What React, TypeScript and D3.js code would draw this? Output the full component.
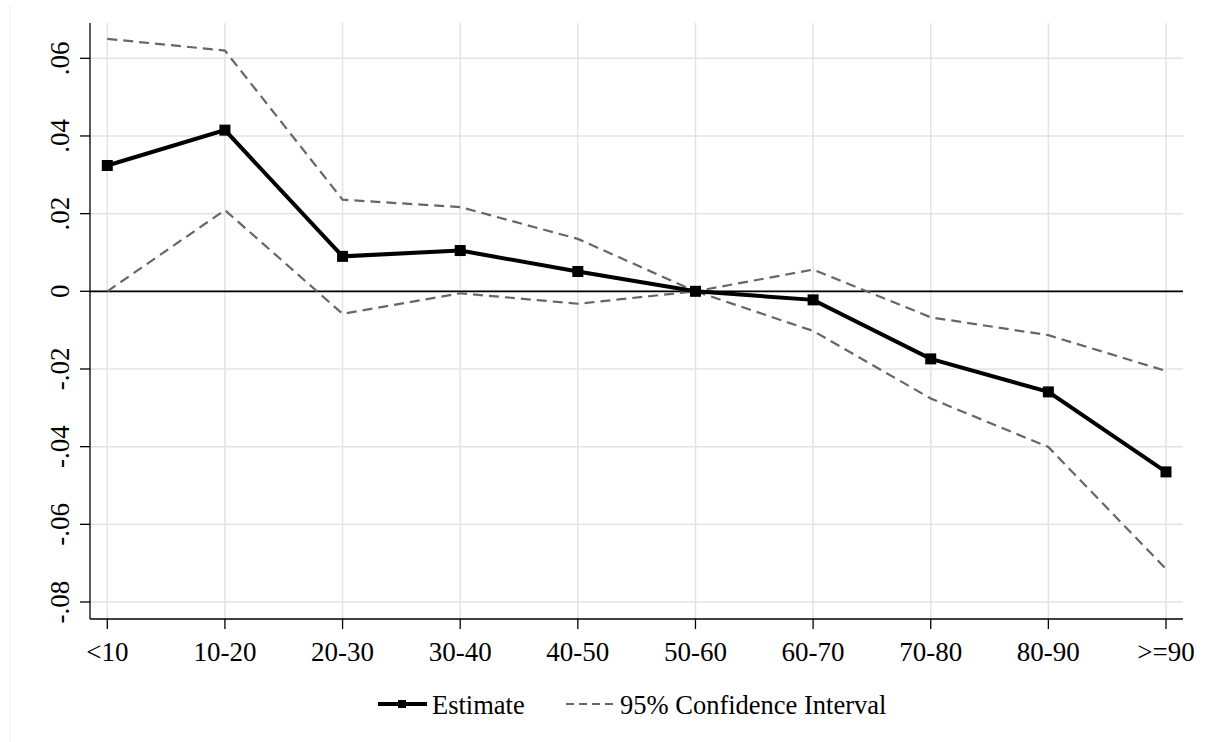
import React from "react";
import * as d3 from "d3";

const categories = ["<10", "10-20", "20-30", "30-40", "40-50", "50-60", "60-70", "70-80", "80-90", ">=90"];
const estimate = [0.0324, 0.0415, 0.009, 0.0105, 0.0051, 0.0, -0.0022, -0.0174, -0.0259, -0.0465];
const upperCI = [0.065, 0.062, 0.0236, 0.0217, 0.0135, 0.0, 0.0056, -0.0067, -0.0113, -0.0205];
const lowerCI = [0.0, 0.0209, -0.0058, -0.0005, -0.0032, 0.0, -0.0102, -0.0276, -0.0401, -0.0715];
const yTicks = [0.06, 0.04, 0.02, 0, -0.02, -0.04, -0.06, -0.08];
const yTickLabels = [".06", ".04", ".02", "0", "-.02", "-.04", "-.06", "-.08"];
const legendLabels = ["Estimate", "95% Confidence Interval"];

const W = 1206;
const H = 742;
const plotLeft = 90;
const plotRight = 1183;
const plotTop = 23;
const plotBottom = 619;
const FONT = "'Liberation Serif', 'Times New Roman', serif";

export default function App() {
  const x = d3.scalePoint<string>().domain(categories).range([107.3, 1166]);
  const y = d3.scaleLinear().domain([-0.08, 0.06]).range([602, 58.3]);

  const idx = categories.map((_, i) => i);
  const mk = (vals: number[]) =>
    d3
      .line<number>()
      .x((i) => x(categories[i]) as number)
      .y((i) => y(vals[i]))(idx) as string;

  const ms = 11;
  const lms = 8;
  const dash = "10,6";
  const legendDash = "8,5";

  return (
    <svg
      width={W}
      height={H}
      style={{ position: "absolute", left: 0, top: 0, background: "#fff" }}
      fontFamily={FONT}
    >
      <rect x={0} y={0} width={W} height={H} fill="#fff" />
      <line x1={10} x2={10} y1={5} y2={742} stroke="#f0f0f0" strokeWidth={1} />
      {yTicks.map((t) => (
        <line key={"hg" + t} x1={plotLeft} x2={plotRight} y1={y(t)} y2={y(t)} stroke="#e3e3e3" strokeWidth={1.5} />
      ))}
      {categories.map((c) => (
        <line key={"vg" + c} x1={x(c)} x2={x(c)} y1={plotTop} y2={plotBottom} stroke="#e3e3e3" strokeWidth={1.5} />
      ))}
      <line x1={plotLeft} x2={plotRight} y1={y(0)} y2={y(0)} stroke="#000" strokeWidth={1.8} />
      <line x1={plotLeft} x2={plotLeft} y1={plotTop} y2={plotBottom} stroke="#000" strokeWidth={1.3} />
      <line x1={plotLeft} x2={plotRight} y1={plotBottom} y2={plotBottom} stroke="#000" strokeWidth={1.3} />
      {yTicks.map((t, i) => (
        <g key={"yt" + t}>
          <line x1={plotLeft - 10} x2={plotLeft} y1={y(t)} y2={y(t)} stroke="#000" strokeWidth={1.3} />
          <text transform={`translate(68.5,${y(t)}) rotate(-90)`} textAnchor="middle" fontSize={27} fill="#000">
            {yTickLabels[i]}
          </text>
        </g>
      ))}
      {categories.map((c) => (
        <g key={"xt" + c}>
          <line x1={x(c)} x2={x(c)} y1={plotBottom} y2={plotBottom + 10} stroke="#000" strokeWidth={1.3} />
          <text x={x(c)} y={661} textAnchor="middle" fontSize={27} fill="#000">
            {c}
          </text>
        </g>
      ))}
      <path d={mk(upperCI)} fill="none" stroke="#666" strokeWidth={2.2} strokeDasharray={dash} />
      <path d={mk(lowerCI)} fill="none" stroke="#666" strokeWidth={2.2} strokeDasharray={dash} />
      <path d={mk(estimate)} fill="none" stroke="#000" strokeWidth={4} strokeLinejoin="miter" />
      {estimate.map((v, i) => (
        <rect
          key={"m" + i}
          x={(x(categories[i]) as number) - ms / 2}
          y={y(v) - ms / 2}
          width={ms}
          height={ms}
          fill="#000"
        />
      ))}
      <line x1={378} x2={427} y1={704} y2={704} stroke="#000" strokeWidth={4} />
      <rect x={402 - lms / 2} y={704 - lms / 2} width={lms} height={lms} fill="#000" />
      <text x={432} y={714} fontSize={26.5} fill="#000">
        {legendLabels[0]}
      </text>
      <line x1={566} x2={618} y1={704} y2={704} stroke="#666" strokeWidth={2.2} strokeDasharray={legendDash} />
      <text x={620} y={714} fontSize={26.5} fill="#000">
        {legendLabels[1]}
      </text>
    </svg>
  );
}
